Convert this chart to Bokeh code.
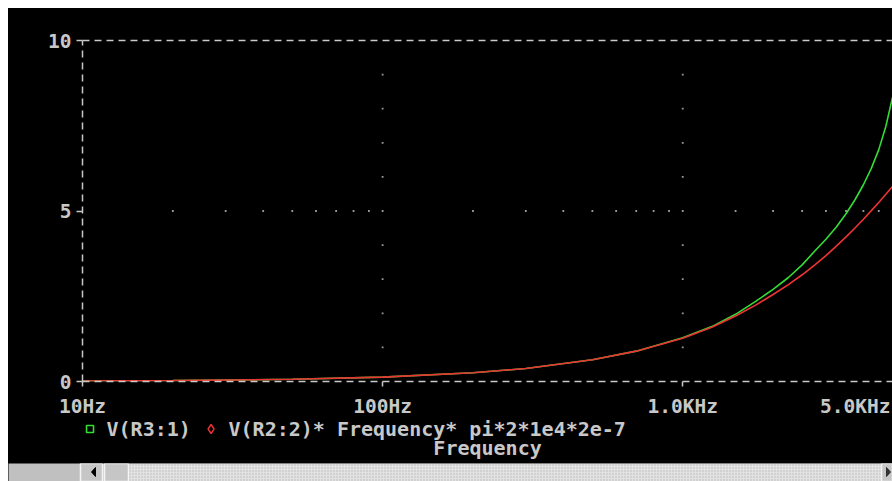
from bokeh.plotting import figure
from bokeh.models import FixedTicker, LogAxis, Range1d
from bokeh.layouts import column
from bokeh.embed import file_html
from bokeh.resources import INLINE
from bokeh.core.properties import value

# ---- data ----
freq_hz = [10, 20, 50, 100, 200, 300, 500, 700, 1000, 1250, 1500, 1750, 2000,
           2250, 2500, 2750, 3000, 3250, 3500, 3750, 4000, 4250, 4500, 4750, 5000]
v_r3 = [0.013, 0.026, 0.064, 0.128, 0.256, 0.38, 0.64, 0.89, 1.28, 1.61, 1.97, 2.35, 2.70,
        3.05, 3.42, 3.82, 4.17, 4.53, 4.92, 5.33, 5.77, 6.25, 6.80, 7.48, 8.33]
v_r2_scaled = [0.013, 0.026, 0.064, 0.128, 0.256, 0.38, 0.64, 0.89, 1.27, 1.59, 1.92, 2.24, 2.55,
               2.84, 3.13, 3.41, 3.69, 3.97, 4.24, 4.50, 4.76, 5.01, 5.25, 5.49, 5.72]

series_names = ["V(R3:1)", "V(R2:2)* Frequency* pi*2*1e4*2e-7"]
x_title = "Frequency"
x_ticks = [10, 100, 1000]
x_tick_labels = ["10Hz", "100Hz", "1.0KHz"]
x_end_value = 5000
x_end_label = "5.0KHz"
y_ticks = [0, 5, 10]
grid_x = [100, 1000]
grid_y = [5]
minor_x = [20, 30, 40, 50, 60, 70, 80, 90,
           200, 300, 400, 500, 600, 700, 800, 900,
           1500, 2000, 2500, 3000, 3500, 4000, 4500]
minor_y = [1, 2, 3, 4, 5, 6, 7, 8, 9]

# ---- styles ----
TXT = "#c8c8c8"
DOT = "#9a9a9a"
GREEN = "#33dd33"
RED = "#ee3333"
FONT = "DejaVu Sans Mono"
DASH = "7 5"
W = 884
LEFT = 74          # px from canvas edge to the 10Hz position
PX_PER_DEC = 300.0


def px_from_start(dx):
    """x value lying dx pixels right of the 10Hz axis position"""
    return 10 ** (1 + dx / PX_PER_DEC)


p = figure(width=W, height=384, x_axis_type="log", x_range=(10, x_end_value), y_range=(0, 10),
           output_backend="svg", toolbar_location=None, frame_align=False,
           min_border_left=LEFT, min_border_right=0, min_border_top=32, min_border_bottom=11,
           background_fill_color="black", border_fill_color="black", outline_line_color=None)
p.xgrid.visible = False
p.ygrid.visible = False

for ax in (p.xaxis[0], p.yaxis[0]):
    ax.axis_line_color = TXT
    ax.axis_line_dash = DASH
    ax.axis_line_width = 1.5
    ax.major_tick_line_color = TXT
    ax.major_tick_line_width = 1.5
    ax.major_tick_in = 0
    ax.minor_tick_line_color = None
    ax.major_label_text_font = FONT
    ax.major_label_text_font_style = "bold"
    ax.major_label_text_font_size = "19.5px"
    ax.major_label_text_color = TXT

p.xaxis[0].ticker = FixedTicker(ticks=x_ticks, minor_ticks=[])
p.xaxis[0].major_tick_out = 5
p.xaxis[0].major_label_text_color = None
p.xaxis[0].major_label_text_font_size = "1px"
p.xaxis[0].major_label_standoff = 0

p.yaxis[0].ticker = FixedTicker(ticks=y_ticks, minor_ticks=[])
p.yaxis[0].major_tick_out = 6
p.yaxis[0].major_label_standoff = 5

top = LogAxis(ticker=FixedTicker(ticks=[], minor_ticks=[]), axis_line_color=TXT,
              axis_line_dash=DASH, axis_line_width=1.5, major_label_text_color=None,
              major_tick_line_color=None, minor_tick_line_color=None)
p.add_layout(top, "above")

# dotted grid
p.scatter(minor_x, [grid_y[0]] * len(minor_x), marker="square", size=1.8, color=DOT, line_color=None)
for gx in grid_x:
    p.scatter([gx] * len(minor_y), minor_y, marker="square", size=1.8, color=DOT, line_color=None)

# traces
p.line(freq_hz, v_r3, line_color=GREEN, line_width=1.6)
p.line(freq_hz, v_r2_scaled, line_color=RED, line_width=1.6)

# ---- lower strip: x tick labels, legend, axis title (same log mapping as the plot) ----
H2 = 71
x_start = 10 ** (1 - LEFT / PX_PER_DEC)
q = figure(width=W, height=H2, x_axis_type="log", x_range=(x_start, x_end_value),
           y_range=Range1d(H2, 0), output_backend="svg", toolbar_location=None, frame_align=False,
           x_axis_location=None, y_axis_location=None, min_border=0,
           background_fill_color="black", border_fill_color="black", outline_line_color=None)
q.grid.visible = False

font = dict(text_font=value(FONT), text_font_style="bold", text_color=TXT)
q.text(x=x_ticks, y=[13.5] * len(x_ticks), text=x_tick_labels, text_align="center",
       text_baseline="alphabetic", text_font_size="19.5px", **font)
q.text(x=[x_end_value], y=[13.5], text=[x_end_label], x_offset=-2, text_align="right",
       text_baseline="alphabetic", text_font_size="19.5px", **font)

q.scatter(x=[px_from_start(7.5)], y=[36.5], marker="square", size=7, fill_color=None,
          line_color=GREEN, line_width=1.6)
q.scatter(x=[px_from_start(128.5)], y=[36.5], marker="diamond", size=9, fill_color=None,
          line_color=RED, line_width=1.4)
q.text(x=[10, 10], y=[36.5, 36.5], x_offset=[24, 146], text=series_names, text_align="left",
       text_baseline="alphabetic", text_font_size="20px", **font)
q.text(x=[10], y=[55], x_offset=405, text=[x_title], text_align="center",
       text_baseline="alphabetic", text_font_size="20px", **font)

# ---- window scrollbar strip (UI chrome) ----
s = figure(width=W, height=18, x_range=(0, W), y_range=(0, 18), output_backend="svg",
           toolbar_location=None, x_axis_location=None, y_axis_location=None, min_border=0,
           frame_align=False,
           background_fill_color="#c0c0c0", border_fill_color="#c0c0c0", outline_line_color=None)
s.grid.visible = False
s.quad(left=[121], right=[873], bottom=[0], top=[18], fill_color="#e2e2e2", line_color=None,
       hatch_pattern="dot", hatch_color="#b5b5b5", hatch_scale=3, hatch_weight=1)
s.quad(left=[72, 96, 873], right=[94, 120, 884], bottom=[0, 0, 0], top=[18, 18, 18],
       fill_color="#c6c6c6", line_color="#f4f4f4", line_width=1.5)
s.patch([83, 87, 87], [9.5, 14, 5], color="black")
s.patch([882, 878, 878], [9.5, 14, 5], color="#333333")

layout = column(p, q, s, spacing=0, margin=(8, 0, 0, 8), styles={"background-color": "black"})
open("out.html", "w").write(file_html(layout, INLINE))
